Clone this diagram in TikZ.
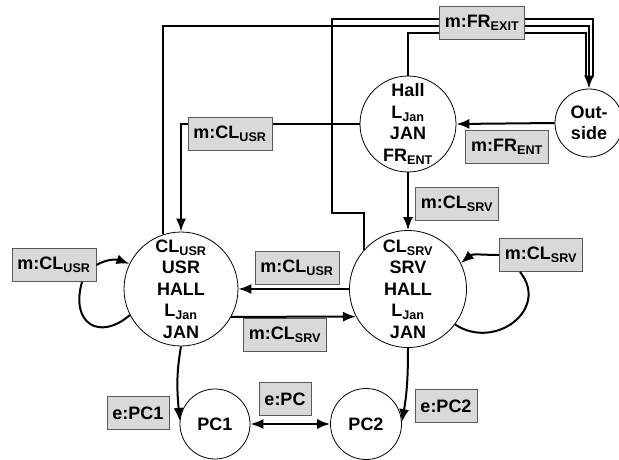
\documentclass[tikz,border=0pt]{standalone}
\usepackage{fontspec}
\setmainfont{Liberation Sans}
\usetikzlibrary{arrows.meta}
\newcommand{\sub}[1]{\textsubscript{#1}}

\begin{document}
\begin{tikzpicture}[
x=1pt,y=1pt,
state/.style={
  draw,
  circle,
  line width=0.8pt,
  inner sep=0pt,
  align=center,
  font=\fontsize{18}{21.5}\selectfont\bfseries
  },
msg/.style={
  draw=black!65,
  fill=gray!30,
  line width=0.9pt,
  minimum height=33pt,
  inner xsep=5.5pt,
  font=\fontsize{18}{21.5}\selectfont\bfseries
  },
wire/.style={
  line width=2pt
  },
>={Latex[length=13pt,width=10pt]}
]
\useasboundingbox (0,0) rectangle (619,459);

% states
\node[state,minimum size=96pt] (hall) at (408,335) {Hall\\L\sub{Jan}\\JAN\\FR\sub{ENT}};
\node[state,minimum size=68pt] (outside) at (589,336) {Out-\\side};
\node[state,minimum size=114pt] (usr) at (181,170) {CL\sub{USR}\\USR\\HALL\\L\sub{Jan}\\JAN};
\node[state,minimum size=117pt] (srv) at (408,170) {CL\sub{SRV}\\SRV\\HALL\\L\sub{Jan}\\JAN};
\node[state,minimum size=70pt] (pc1) at (215,35) {PC1};
\node[state,minimum size=71pt] (pc2) at (366,35) {PC2};

% exit lines, run under the label box
\coordinate (exitsrv) at (593,440);
\coordinate (exitusr) at (589,433);
\coordinate (exithall) at (586,426);
\coordinate (srvbend) at (332,246);
\draw[wire] (srv.139) |- (srvbend) |- (exitsrv) -- ([yshift=12pt]exitsrv |- outside.north);
\draw[wire] (hall.north) |- (exithall) -- ([yshift=12pt]exithall |- outside.north);
\draw[wire,->] (usr.108) |- (exitusr) -- (outside.north);
\draw[wire,->] (hall.west) -| (usr.north);

% labels
\node[msg] (fexit) at (482,436) {m:FR\sub{EXIT}};
\node[msg] (fent) at (507,312) {m:FR\sub{ENT}};
\node[msg] (usrtop) at (230,325) {m:CL\sub{USR}};
\node[msg] (srvtop) at (457,255) {m:CL\sub{SRV}};
\node[msg] (usrloop) at (54,194) {m:CL\sub{USR}};
\node[msg] (usrmid) at (297,191) {m:CL\sub{USR}};
\node[msg] (srvmid) at (285,124) {m:CL\sub{SRV}};
\node[msg] (srvloop) at (541,204) {m:CL\sub{SRV}};
\node[msg] (epc1) at (138,46) {e:PC1};
\node[msg] (epc) at (285,60) {e:PC};
\node[msg] (epc2) at (446,53) {e:PC2};

% transitions
\draw[wire,->] (outside.west) -- (hall.east);
\draw[wire,->] (hall.south) -- (srv.north);
\draw[wire,->] (srv.west) -- (usr.east);
\draw[wire,->] (usr.-29) -- (srv.208);
\draw[wire] (usr.207) .. controls (100,118) and (70,135) .. ([xshift=28pt]usrloop.south);
\draw[wire,->] (usrloop.east) to[out=30,in=160] (usr.154);
\draw[wire] (srv.-37) .. controls (495,108) and (550,150) .. ([xshift=-21pt]srvloop.south);
\draw[wire,->] (srvloop.west) to[out=180,in=40] (srv.26);
\draw[wire,->] (usr.south) to[out=-100,in=95] (pc1.175);
\draw[wire,->] (srv.south) to[out=-90,in=80] (pc2.3);
\draw[wire,<->] (pc1.east) -- (pc2.west);
\end{tikzpicture}
\end{document}
